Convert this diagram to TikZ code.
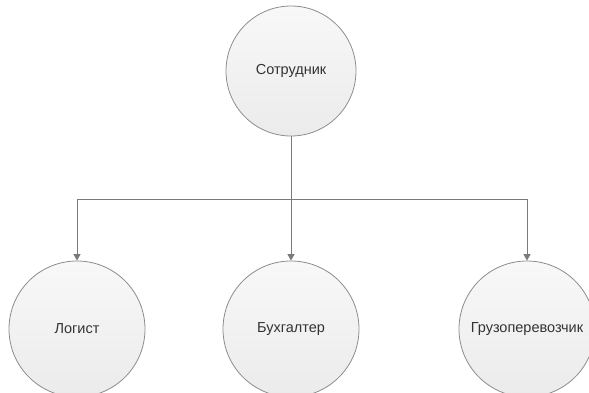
\documentclass[tikz,border=0pt]{standalone}
\usepackage{fontspec}
\setmainfont{Liberation Sans}
\usetikzlibrary{arrows.meta}
\definecolor{rim}{HTML}{8C8C8C}
\definecolor{wire}{HTML}{7A7A7A}
\definecolor{ink}{HTML}{333333}
\definecolor{filltop}{HTML}{F8F8F8}
\definecolor{fillbot}{HTML}{EBEBEB}
\tikzset{
  role/.style={circle, draw=rim, line width=0.8pt, top color=filltop, bottom color=fillbot,
    minimum size=#1, inner sep=0pt, text=ink, font=\fontsize{14.5}{16}\selectfont},
  role/.default=136pt,
  link/.style={draw=wire, line width=1pt, -{Triangle[width=7pt,length=6.5pt]}}
}
\begin{document}
\begin{tikzpicture}[x=1pt,y=-1pt]
\useasboundingbox (0,0) rectangle (589,392);
\clip (0,0) rectangle (589,392);
\node[role=130pt] (emp) at (291,71) {Сотрудник};
\node[role] (log) at (77,329) {Логист};
\node[role] (acc) at (291,329) {Бухгалтер};
\node[role] (car) at (527,329) {Грузоперевозчик};
\coordinate (hub) at (291,199);
\draw[link] (emp.south) -- (hub) -| (log.north);
\draw[link] (hub) -- (acc.north);
\draw[link] (hub) -| (car.north);
\end{tikzpicture}
\end{document}
